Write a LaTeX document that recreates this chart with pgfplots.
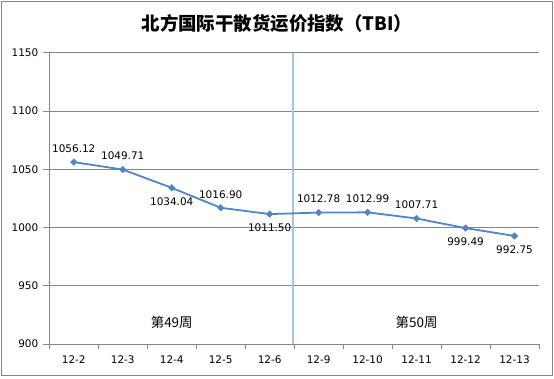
\documentclass[border=0pt]{standalone}
\usepackage{pgfplots}
\pgfplotsset{compat=1.18}
\usepackage{pgfplotstable}
\usepackage{fontspec}
\setmainfont{DejaVu Sans}
\newfontfamily\cjk{Noto Sans CJK SC}
\definecolor{serblue}{HTML}{4F86C6}
\definecolor{vline}{HTML}{A7C4E6}
\definecolor{gridgray}{HTML}{868686}
\pgfplotstableread{
x y pos
0 1056.12 1
1 1049.71 1
2 1034.04 -1
3 1016.90 1
4 1011.50 -1
5 1012.78 1
6 1012.99 1
7 1007.71 1
8 999.49 -1
9 992.75 -1
}\tbi
\begin{document}
\begin{tikzpicture}
\begin{axis}[name=ax, scale only axis, width=489.7bp, height=291.3bp,
  xmin=-0.5, xmax=9.5, ymin=900, ymax=1150,
  ytick={900,950,...,1150},
  xtick={0,...,9},
  xticklabels={12-2,12-3,12-4,12-5,12-6,12-9,12-10,12-11,12-12,12-13},
  major x tick style={draw=none},
  minor xtick={-0.5,0.5,1.5,2.5,3.5,4.5,5.5,6.5,7.5,8.5,9.5},
  minor tick length=5bp, major tick length=6bp,
  axis x line*=bottom, axis y line*=left,
  axis line style={gridgray, line width=0.8bp},
  tick style={gridgray, line width=0.8bp},
  tick align=outside,
  ymajorgrids, grid style={gridgray, line width=0.8bp},
  /pgf/number format/assume math mode=true,
  /pgf/number format/1000 sep={},
  ticklabel style={font=\fontsize{10.5}{12}\selectfont},
  yticklabel style={xshift=-1.5bp},
  xticklabel style={yshift=-2bp},
  clip=false,
]
\draw[vline, line width=2bp] (axis cs:4.48,900) -- (axis cs:4.48,1150);
\addplot[serblue, line width=1.8bp, mark=square*, mark size=2.3bp,
  mark options={rotate=45, fill=serblue, draw=serblue, line width=0.5bp},
  point meta=explicit,
  visualization depends on={\thisrow{pos} \as \labpos},
  nodes near coords={\pgfmathprintnumber[fixed,zerofill,precision=2,set thousands separator={},assume math mode=true]{\pgfplotspointmeta}},
  nodes near coords style={font=\fontsize{10.5}{12}\selectfont, black, anchor=center, yshift=\labpos*13.5bp},
] table[x=x,y=y,meta=y] {\tbi};
\node[font=\cjk\fontsize{13.5}{15}\selectfont] at (axis cs:2,918.9) {第49周};
\node[font=\cjk\fontsize{13.5}{15}\selectfont] at (axis cs:7,918.9) {第50周};
\end{axis}
\node[font=\cjk\bfseries\fontsize{18.5}{21}\selectfont] at ([shift={(227.7bp,29.4bp)}]ax.north west) {北方国际干散货运价指数（TBI）};
\draw[gridgray, line width=0.9bp] ([shift={(-48.3bp,-31bp)}]ax.south west) rectangle ([shift={(13.2bp,51.7bp)}]ax.north east);
\pgfresetboundingbox
\path ([shift={(-49.3bp,-34bp)}]ax.south west) rectangle ([shift={(15bp,52.7bp)}]ax.north east);
\end{tikzpicture}
\end{document}
